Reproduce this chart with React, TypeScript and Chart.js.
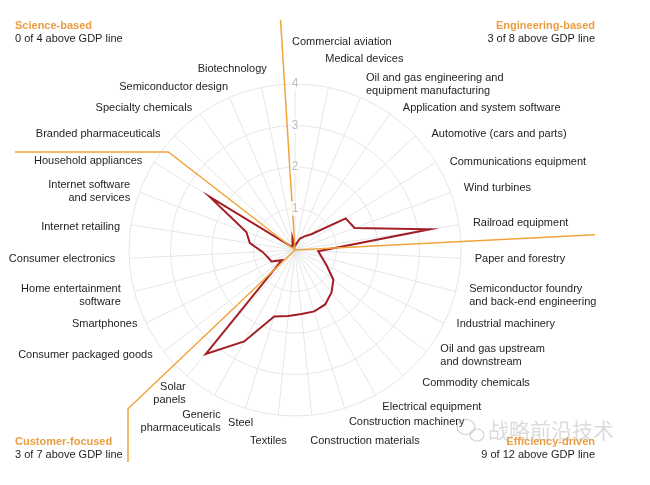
import { useEffect, useRef } from 'react';
import { Chart, registerables } from 'chart.js';

Chart.register(...registerables);

// ---------- data ----------
const categories: (string | string[])[] = [
  'Commercial aviation',
  'Medical devices',
  ['Oil and gas engineering and', 'equipment manufacturing'],
  'Application and system software',
  'Automotive (cars and parts)',
  'Communications equipment',
  'Wind turbines',
  'Railroad equipment',
  'Paper and forestry',
  ['Semiconductor foundry', 'and back-end engineering'],
  'Industrial machinery',
  ['Oil and gas upstream', 'and downstream'],
  'Commodity chemicals',
  'Electrical equipment',
  'Construction machinery',
  'Construction materials',
  'Textiles',
  'Steel',
  ['Generic', 'pharmaceuticals'],
  ['Solar', 'panels'],
  'Consumer packaged goods',
  'Smartphones',
  ['Home entertainment', 'software'],
  'Consumer electronics',
  'Internet retailing',
  ['Internet software', 'and services'],
  'Household appliances',
  'Branded pharmaceuticals',
  'Specialty chemicals',
  'Semiconductor design',
  'Biotechnology',
];

const values: number[] = [
  0.1, 0.15, 0.3, 0.4, 0.56, 1.44, 1.53, 3.29,
  0.56, 0.66, 0.85, 1.17, 1.35, 1.5, 1.55, 1.55, 1.6, 1.68, 2.52, 3.3,
  0.4, 0.63, 0.68, 0.79, 1.1, 1.25, 2.42,
  0.12, 0.1, 0.15, 0.3,
];

const tickValues: number[] = [1, 2, 3, 4];

const groupNames: string[] = ['Science-based', 'Engineering-based', 'Customer-focused', 'Efficiency-driven'];
const groupNotes: string[] = ['0 of 4 above GDP line', '3 of 8 above GDP line', '3 of 7 above GDP line', '9 of 12 above GDP line'];

const watermark = '战略前沿技术';

// ---------- styles / layout ----------
const RED = '#a31d24';
const ORANGE = '#f2a33c';
const ORANGE_TEXT = '#eb9d40';
const GRID = '#e6e6e6';
const FONT = '"Liberation Sans", Arial, sans-serif';
const LABEL_GAP = 14;
const LINE_H = 13;

type Tweak = { dx?: number; dy?: number; align?: CanvasTextAlign };
const labelTweaks: Record<number, Tweak> = {
  0: { dx: -3, dy: -28, align: 'left' },
  1: { dx: -6, dy: -15 },
  3: { dx: 5, dy: 6 },
  4: { dx: 6, dy: 8 },
  5: { dx: 2, dy: 7 },
  10: { dy: -5 },
  11: { dx: 3, dy: -5 },
  12: { dx: 10, dy: -4 },
  15: { dx: -3, dy: 12 },
  16: { dx: 10, dy: 12 },
  17: { dx: 12, dy: 1 },
  18: { dx: 13, dy: 14 },
  19: { dx: 8, dy: 7 },
  20: { dy: -5 },
  21: { dx: 4, dy: -5 },
  24: { dx: 3, dy: 4 },
  25: { dx: 4, dy: 4 },
  26: { dy: 6 },
  27: { dx: -4, dy: 8 },
  28: { dy: 6 },
  29: { dx: 4, dy: 2 },
  30: { dx: 8, dy: -5 },
};

const decorPlugin = {
  id: 'decor',
  afterDatasetsDraw(chart: any) {
    const s = chart.scales.r;
    const ctx: CanvasRenderingContext2D = chart.ctx;
    const cx = s.xCenter;
    const cy = s.yCenter;
    const W = chart.width;
    const H = chart.height;
    const dirAt = (idx: number) => {
      const a = s.getIndexAngle(idx) - Math.PI / 2;
      return [Math.cos(a), Math.sin(a)];
    };
    ctx.save();
    ctx.strokeStyle = ORANGE;
    ctx.lineWidth = 1.5;
    // top divider
    {
      const a = (-3.6 * Math.PI) / 180;
      const dx = Math.sin(a), dy = -Math.cos(a);
      const t = (cy - 20) / -dy;
      ctx.beginPath();
      ctx.moveTo(cx, cy);
      ctx.lineTo(cx + dx * t, cy + dy * t);
      ctx.stroke();
    }
    // right divider (between Railroad and Paper)
    {
      const [dx, dy] = dirAt(7.5);
      const t = (W - 55 - cx) / dx;
      ctx.beginPath();
      ctx.moveTo(cx, cy);
      ctx.lineTo(cx + dx * t, cy + dy * t);
      ctx.stroke();
    }
    // upper-left divider (between Household appliances and Branded pharma)
    {
      const [dx, dy] = dirAt(26.5);
      const yEnd = 152;
      const t = (yEnd - cy) / dy;
      ctx.beginPath();
      ctx.moveTo(cx, cy);
      ctx.lineTo(cx + dx * t, yEnd);
      ctx.lineTo(15, yEnd);
      ctx.stroke();
    }
    // lower-left divider (between Solar and Consumer packaged goods)
    {
      const [dx, dy] = dirAt(19.5);
      const xEnd = 128;
      const t = (xEnd - cx) / dx;
      ctx.beginPath();
      ctx.moveTo(cx, cy);
      ctx.lineTo(xEnd, cy + dy * t);
      ctx.lineTo(xEnd, H - 23);
      ctx.stroke();
    }
    ctx.restore();
  },
  afterDraw(chart: any) {
    const s = chart.scales.r;
    const ctx: CanvasRenderingContext2D = chart.ctx;
    const W = chart.width;
    const H = chart.height;
    ctx.save();
    // category labels
    ctx.font = `11px ${FONT}`;
    ctx.fillStyle = '#1e1e1e';
    ctx.textBaseline = 'middle';
    categories.forEach((lab, i) => {
      const p = s.getPointPosition(i, s.drawingArea + LABEL_GAP);
      const tw = labelTweaks[i] || {};
      const x = p.x + (tw.dx || 0);
      const y = p.y + (tw.dy || 0);
      const align: CanvasTextAlign =
        tw.align || (p.x > s.xCenter + 2 ? 'left' : p.x < s.xCenter - 2 ? 'right' : 'center');
      ctx.textAlign = align;
      const lines = Array.isArray(lab) ? lab : [lab];
      lines.forEach((ln, k) => {
        ctx.fillText(ln, x, y + (k - (lines.length - 1) / 2) * LINE_H);
      });
    });
    // group headers
    const corners = [
      { x: 15, y: 26, align: 'left' as CanvasTextAlign },
      { x: W - 55, y: 26, align: 'right' as CanvasTextAlign },
      { x: 15, y: H - 43, align: 'left' as CanvasTextAlign },
      { x: W - 55, y: H - 43, align: 'right' as CanvasTextAlign },
    ];
    corners.forEach((c, i) => {
      ctx.textAlign = c.align;
      ctx.font = `bold 11px ${FONT}`;
      ctx.fillStyle = ORANGE_TEXT;
      ctx.fillText(groupNames[i], c.x, c.y);
      ctx.font = `11px ${FONT}`;
      ctx.fillStyle = '#1e1e1e';
      ctx.fillText(groupNotes[i], c.x, c.y + 13);
    });
    // watermark
    ctx.strokeStyle = 'rgba(170,170,170,0.5)';
    ctx.lineWidth = 1.2;
    ctx.beginPath();
    ctx.ellipse(466, 427, 9, 7.5, 0, 0, Math.PI * 2);
    ctx.stroke();
    ctx.beginPath();
    ctx.ellipse(477, 435, 7, 6, 0, 0, Math.PI * 2);
    ctx.stroke();
    ctx.font = `21px "Noto Sans CJK SC", sans-serif`;
    ctx.fillStyle = 'rgba(175,175,175,0.45)';
    ctx.textAlign = 'left';
    ctx.fillText(watermark, 488, 430);
    ctx.restore();
  },
};

export default function App() {
  const ref = useRef<HTMLCanvasElement>(null);
  useEffect(() => {
    const chart = new Chart(ref.current as HTMLCanvasElement, {
      type: 'radar',
      data: {
        labels: categories as any,
        datasets: [
          {
            data: values,
            borderColor: RED,
            borderWidth: 2,
            pointRadius: 0,
            pointHoverRadius: 0,
            fill: false,
            tension: 0,
            borderJoinStyle: 'miter',
          },
        ],
      },
      options: {
        responsive: false,
        animation: false,
        devicePixelRatio: 1,
        layout: { padding: { left: 129, top: 84, right: 189, bottom: 69 } },
        plugins: { legend: { display: false }, tooltip: { enabled: false } },
        scales: {
          r: {
            min: 0,
            max: tickValues[tickValues.length - 1],
            startAngle: 0,
            afterBuildTicks: (sc: any) => {
              sc.ticks = [0, ...tickValues].map((v) => ({ value: v }));
            },
            afterFit: (sc: any) => {
              const ca = sc.chart.chartArea;
              sc.xCenter = (ca.left + ca.right) / 2;
              sc.yCenter = (ca.top + ca.bottom) / 2;
              sc.drawingArea = Math.min(ca.right - ca.left, ca.bottom - ca.top) / 2;
            },
            ticks: {
              stepSize: 1,
              color: '#bdbdbd',
              font: { size: 12, family: FONT },
              showLabelBackdrop: true,
              backdropColor: 'rgba(255,255,255,0.85)',
              backdropPadding: 1,
              z: 1,
            },
            grid: { circular: true, color: GRID, lineWidth: 1 },
            angleLines: { display: true, color: GRID, lineWidth: 1 },
            pointLabels: { display: false },
          },
        },
      } as any,
      plugins: [decorPlugin],
    });
    return () => chart.destroy();
  }, []);
  return (
    <div style={{ position: 'fixed', left: 0, top: 0, width: 650, height: 485, background: '#fff' }}>
      <canvas ref={ref} width={650} height={485} style={{ display: 'block' }} />
    </div>
  );
}
